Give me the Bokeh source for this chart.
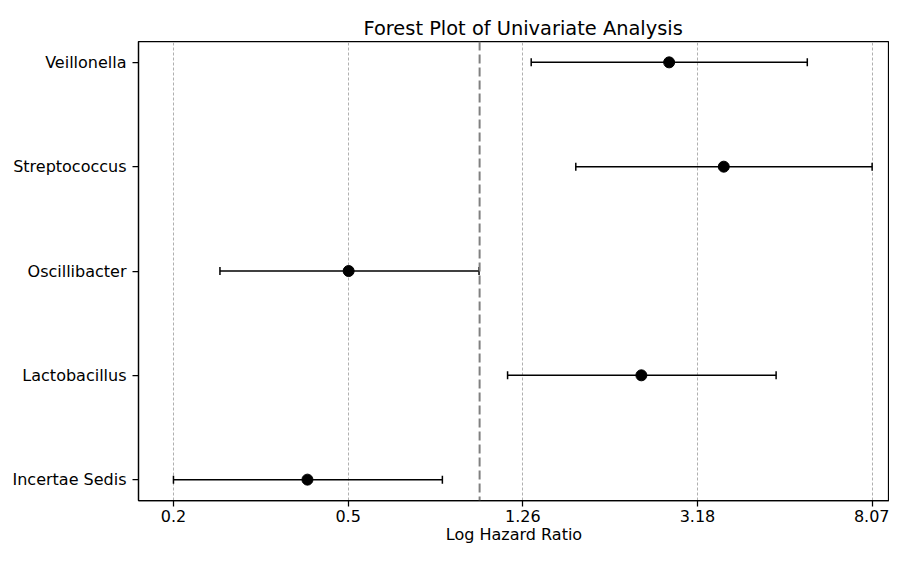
import numpy as np
from bokeh.plotting import figure
from bokeh.models import ColumnDataSource, Range1d, FixedTicker, Whisker, TeeHead, Span
from bokeh.embed import file_html
from bokeh.resources import INLINE

# ---- data (log hazard ratio and 95% CI) ----
genera = ["Veillonella", "Streptococcus", "Oscillibacter", "Lactobacillus", "Incertae Sedis"]
log_hr = [1.003, 1.292, -0.693, 0.856, -0.911]
ci_lower = [0.273, 0.509, -1.374, 0.148, -1.620]
ci_upper = [1.734, 2.077, -0.003, 1.569, -0.197]
x_tick_labels = ["0.2", "0.5", "1.26", "3.18", "8.07"]

n = len(genera)
ypos = [n - 1 - i for i in range(n)]
src = ColumnDataSource(dict(y=ypos, x=log_hr, lo=ci_lower, hi=ci_upper, name=genera))

x_ticks = list(np.linspace(min(ci_lower), max(ci_upper), len(x_tick_labels)))

FONT = "DejaVu Sans"

p = figure(width=889, height=546, output_backend="svg", toolbar_location=None,
           x_range=Range1d(-1.805, 2.169), y_range=Range1d(-0.2, 4.2),
           min_border_left=138, min_border_right=0, min_border_top=41, min_border_bottom=0)
p.background_fill_color = "white"
p.border_fill_color = "white"
p.outline_line_color = "black"
p.outline_line_width = 1.25

p.title.text = "Forest Plot of Univariate Analysis"
p.title.text_font = FONT
p.title.text_font_size = "19.4px"
p.title.text_font_style = "normal"
p.title.text_color = "black"
p.title.align = "left"
p.title.offset = 225
p.title.standoff = 4

# x axis
xa = p.xaxis[0]
xa.ticker = FixedTicker(ticks=x_ticks)
xa.major_label_overrides = {t: lab for t, lab in zip(x_ticks, x_tick_labels)}
xa.axis_label = "Log Hazard Ratio"
# y axis
ya = p.yaxis[0]
ya.ticker = FixedTicker(ticks=ypos)
ya.major_label_overrides = {y: g for y, g in zip(ypos, genera)}

for ax in (xa, ya):
    ax.axis_line_color = "black"
    ax.axis_line_width = 1.25
    ax.major_tick_line_color = "black"
    ax.major_tick_line_width = 1.25
    ax.major_tick_out = 6
    ax.major_tick_in = 0
    ax.minor_tick_line_color = None
    ax.major_label_text_font = FONT
    ax.major_label_text_font_size = "16px"
    ax.major_label_text_color = "black"
    ax.axis_label_text_font = FONT
    ax.axis_label_text_font_size = "16px"
    ax.axis_label_text_font_style = "normal"
    ax.axis_label_text_color = "black"
xa.major_label_standoff = 3
xa.axis_label_standoff = 0
ya.major_label_standoff = 6

p.xgrid.grid_line_color = "#b0b0b0"
p.xgrid.grid_line_dash = "3 2"
p.xgrid.grid_line_width = 1
p.ygrid.grid_line_color = None

p.add_layout(Span(location=0, dimension="height", line_color="#808080",
                  line_width=2, line_dash="9 4"))

w = Whisker(source=src, base="y", lower="lo", upper="hi", dimension="width",
            line_color="black", line_width=1.5,
            lower_head=TeeHead(size=8, line_color="black", line_width=1.5),
            upper_head=TeeHead(size=8, line_color="black", line_width=1.5))
p.add_layout(w)

p.scatter(x="x", y="y", source=src, size=11, marker="circle",
          fill_color="black", line_color="black")

open("out.html", "w").write(file_html(p, INLINE))
